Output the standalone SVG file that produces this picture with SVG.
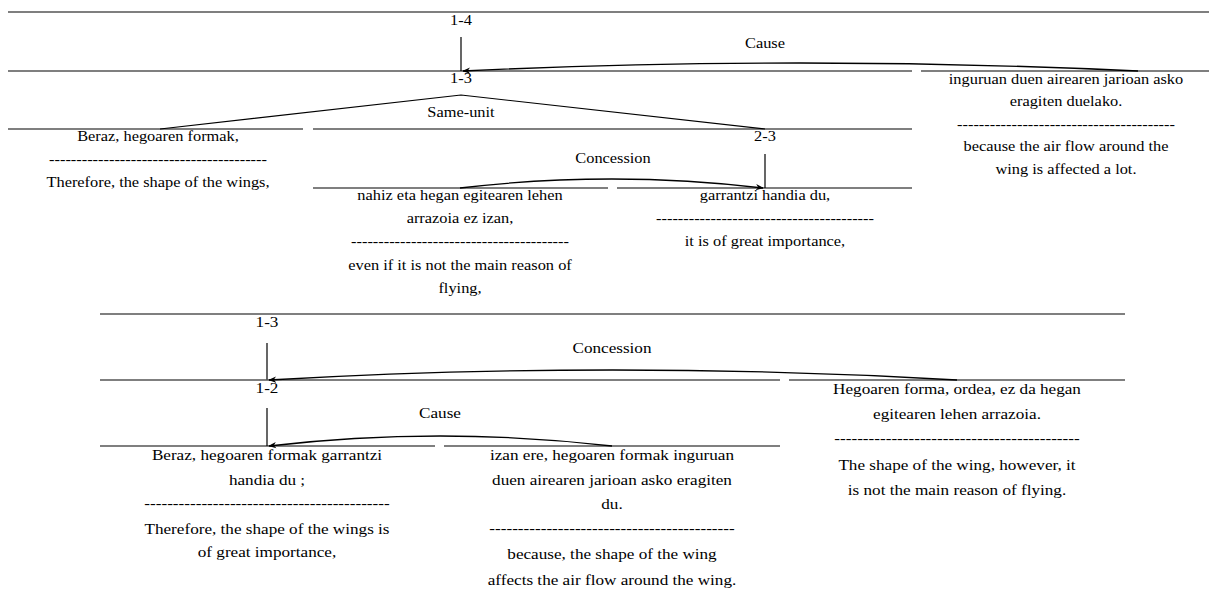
<svg xmlns="http://www.w3.org/2000/svg" width="1209" height="592" viewBox="0 0 1209 592">
  <style>
    text { font-family: "Liberation Serif", "Times New Roman", serif; fill: #000; text-anchor: middle; }
    .t { font-size: 14px; }
    .b { font-size: 15.6px; }
    .ln { stroke: #000; stroke-width: 1.2; fill: none; }
    .lg { stroke: #555; stroke-width: 1.4; fill: none; }
    .arc { stroke: #000; stroke-width: 1.3; fill: none; marker-end: url(#ah); }
  </style>
  <defs>
    <marker id="ah" viewBox="0 0 10 10" refX="9" refY="5" markerWidth="8" markerHeight="8" markerUnits="userSpaceOnUse" orient="auto">
      <path d="M0,1 L10,5 L0,9 L3,5 Z" fill="#000"/>
    </marker>
  </defs>
  <rect width="1209" height="592" fill="#fff"/>

  <!-- upper tree: text groups are widened horizontally around their centre -->
  <g id="span-1-4">
    <line class="lg" x1="8" y1="12" x2="1209" y2="12"/>
    <g transform="translate(461,0) scale(1.17,1)"><text class="t" x="0" y="25">1-4</text></g>
    <line class="ln" x1="461" y1="37" x2="461" y2="71"/>
  </g>
  <g id="span-1-3-top">
    <line class="ln" x1="8" y1="71" x2="912" y2="71"/>
    <g transform="translate(461,0) scale(1.17,1)"><text class="t" x="0" y="83">1-3</text></g>
  </g>
  <g id="edu-4">
    <line class="ln" x1="921" y1="71" x2="1209" y2="71"/>
    <g transform="translate(1066,0) scale(1.17,1)">
      <text class="t" x="0" y="84">inguruan duen airearen jarioan asko</text>
      <text class="t" x="0" y="106">eragiten duelako.</text>
      <text class="t" x="0" y="129">----------------------------------------</text>
      <text class="t" x="0" y="151">because the air flow around the</text>
      <text class="t" x="0" y="174">wing is affected a lot.</text>
    </g>
  </g>
  <g id="edu-1">
    <line class="lg" x1="8" y1="129" x2="303" y2="129"/>
    <g transform="translate(158,0) scale(1.17,1)">
      <text class="t" x="0" y="141">Beraz, hegoaren formak,</text>
      <text class="t" x="0" y="164">----------------------------------------</text>
      <text class="t" x="0" y="187">Therefore, the shape of the wings,</text>
    </g>
  </g>
  <g id="span-2-3">
    <line class="lg" x1="313" y1="129" x2="912" y2="129"/>
    <g transform="translate(765,0) scale(1.17,1)"><text class="t" x="0" y="141">2-3</text></g>
    <line class="ln" x1="765" y1="154" x2="765" y2="188"/>
  </g>
  <g id="edu-2">
    <line class="ln" x1="313" y1="188" x2="608" y2="188"/>
    <g transform="translate(460,0) scale(1.17,1)">
      <text class="t" x="0" y="200">nahiz eta hegan egitearen lehen</text>
      <text class="t" x="0" y="223">arrazoia ez izan,</text>
      <text class="t" x="0" y="246">----------------------------------------</text>
      <text class="t" x="0" y="270">even if it is not the main reason of</text>
      <text class="t" x="0" y="293">flying,</text>
    </g>
  </g>
  <g id="edu-3">
    <line class="ln" x1="617" y1="188" x2="912" y2="188"/>
    <g transform="translate(765,0) scale(1.17,1)">
      <text class="t" x="0" y="200">garrantzi handia du,</text>
      <text class="t" x="0" y="223">----------------------------------------</text>
      <text class="t" x="0" y="246">it is of great importance,</text>
    </g>
  </g>

  <!-- lower tree -->
  <g id="span-1-3-bottom">
    <line class="lg" x1="100" y1="314" x2="1125" y2="314"/>
    <g transform="translate(267,0) scale(1.1,1)"><text class="b" x="0" y="327">1-3</text></g>
    <line class="ln" x1="267" y1="343" x2="267" y2="380"/>
  </g>
  <g id="span-1-2">
    <line class="lg" x1="100" y1="380" x2="780" y2="380"/>
    <g transform="translate(267,0) scale(1.1,1)"><text class="b" x="0" y="393">1-2</text></g>
    <line class="ln" x1="267" y1="408" x2="267" y2="446"/>
  </g>
  <g id="edu-b3">
    <line class="lg" x1="789" y1="380" x2="1125" y2="380"/>
    <g transform="translate(957,0) scale(1.1,1)">
      <text class="b" x="0" y="394">Hegoaren forma, ordea, ez da hegan</text>
      <text class="b" x="0" y="419">egitearen lehen arrazoia.</text>
      <text class="b" x="0" y="443">-------------------------------------------</text>
      <text class="b" x="0" y="470">The shape of the wing, however, it</text>
      <text class="b" x="0" y="495">is not the main reason of flying.</text>
    </g>
  </g>
  <g id="edu-b1">
    <line class="ln" x1="100" y1="446" x2="435" y2="446"/>
    <g transform="translate(267,0) scale(1.1,1)">
      <text class="b" x="0" y="460">Beraz, hegoaren formak garrantzi</text>
      <text class="b" x="0" y="485">handia du ;</text>
      <text class="b" x="0" y="508">-------------------------------------------</text>
      <text class="b" x="0" y="534">Therefore, the shape of the wings is</text>
      <text class="b" x="0" y="557">of great importance,</text>
    </g>
  </g>
  <g id="edu-b2">
    <line class="ln" x1="444" y1="446" x2="780" y2="446"/>
    <g transform="translate(612,0) scale(1.1,1)">
      <text class="b" x="0" y="460">izan ere, hegoaren formak inguruan</text>
      <text class="b" x="0" y="485">duen airearen jarioan asko eragiten</text>
      <text class="b" x="0" y="509">du.</text>
      <text class="b" x="0" y="533">-------------------------------------------</text>
      <text class="b" x="0" y="559">because, the shape of the wing</text>
      <text class="b" x="0" y="585">affects the air flow around the wing.</text>
    </g>
  </g>

  <!-- relations -->
  <g id="connectors">
    <path class="ln" d="M160,129 L461,95 L765,129"/>
    <g transform="translate(461,0) scale(1.17,1)"><text class="t" x="0" y="117">Same-unit</text></g>
    <path class="arc" d="M1138,71 Q800,55 463,71"/>
    <g transform="translate(765,0) scale(1.17,1)"><text class="t" x="0" y="48">Cause</text></g>
    <path class="arc" d="M460,188 Q612,170 763,188"/>
    <g transform="translate(613,0) scale(1.17,1)"><text class="t" x="0" y="163">Concession</text></g>
    <path class="arc" d="M957,380 Q612,360 269,380"/>
    <g transform="translate(612,0) scale(1.1,1)"><text class="b" x="0" y="353">Concession</text></g>
    <path class="arc" d="M612,446 Q440,426 269,446"/>
    <g transform="translate(440,0) scale(1.1,1)"><text class="b" x="0" y="418">Cause</text></g>
  </g>
</svg>
